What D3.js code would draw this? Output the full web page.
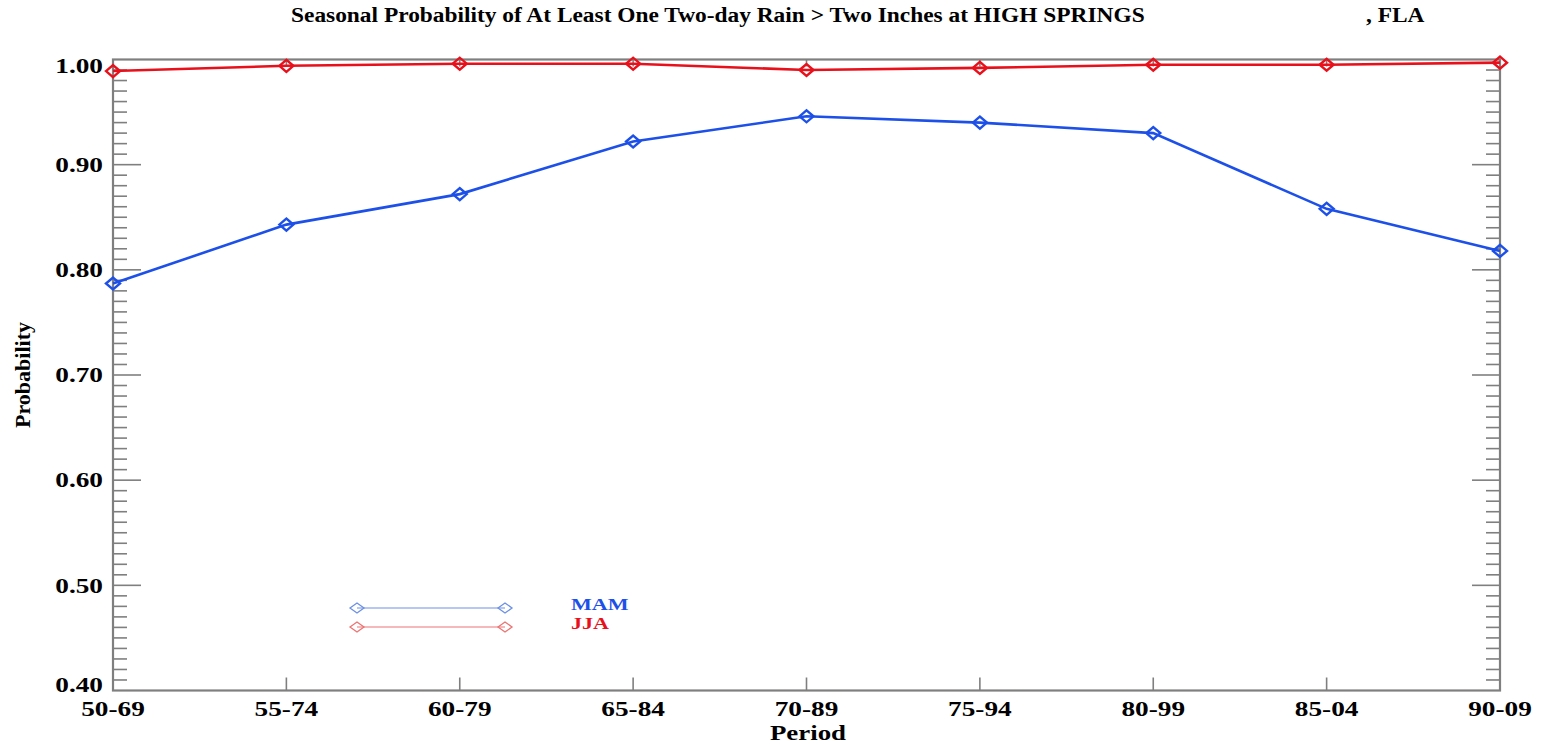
<!DOCTYPE html>
<html><head><meta charset="utf-8">
<script src="https://cdn.jsdelivr.net/npm/d3@7"></script>
<style>body{margin:0;background:#fff}svg{display:block}</style>
</head><body><svg id="c" width="1541" height="744"></svg>
<script>
const periods = ["50-69","55-74","60-79","65-84","70-89","75-94","80-99","85-04","90-09"];
const mam = [0.787,0.843,0.872,0.922,0.946,0.940,0.930,0.858,0.818];
const jja = [0.989,0.994,0.996,0.996,0.990,0.992,0.995,0.995,0.997];
const yTickValues = [0.40,0.50,0.60,0.70,0.80,0.90,1.00];
const yTickLabels = ["0.40","0.50","0.60","0.70","0.80","0.90","1.00"];
const seriesNames = ["MAM","JJA"];
const titleMain = "Seasonal Probability of At Least One Two-day Rain > Two Inches at HIGH SPRINGS";
const titleTail = ", FLA";

const L = 113, R = 1500, T = 59.5, B = 690.5;
const FONT = "'Liberation Serif','Times New Roman',serif";
const BLUE = "#1d50e8", RED = "#e8111b";
const BLUE_L = "#6d90e6", RED_L = "#ee7373";
const GRAY = "#7f7f7f";

const svg = d3.select("#c");
const x = d3.scalePoint().domain(periods).range([L, R]);
const y = d3.scaleLinear().domain([0.4, 1.0]).range([B, T]);

function stext(g, tx, ty, str, size, anchor, color, sx, weight) {
  return g.append("text")
    .attr("transform", `translate(${tx},${ty}) scale(${sx},1)`)
    .attr("text-anchor", anchor)
    .attr("dominant-baseline", "central")
    .style("font-family", FONT)
    .style("font-size", size + "px")
    .style("font-weight", weight || "bold")
    .attr("fill", color)
    .text(str);
}

// ticks
const minor = d3.range(40, 101).map(v => v / 100);
const tg = svg.append("g").attr("stroke", GRAY).attr("stroke-width", 1.6);
minor.forEach(v => {
  if (v === 0.4 || v === 1.0) return;
  const isMajor = (Math.round(v * 100) % 10) === 0;
  const len = isMajor ? 28 : 14;
  tg.append("line").attr("x1", L).attr("x2", L + len).attr("y1", y(v)).attr("y2", y(v));
  tg.append("line").attr("x1", R).attr("x2", R - len).attr("y1", y(v)).attr("y2", y(v));
});
periods.forEach((p, i) => {
  if (i === 0 || i === periods.length - 1) return;
  tg.append("line").attr("x1", x(p)).attr("x2", x(p)).attr("y1", B).attr("y2", B - 13);
  tg.append("line").attr("x1", x(p)).attr("x2", x(p)).attr("y1", T).attr("y2", T + 7);
});

// frame
svg.append("rect").attr("x", L).attr("y", T).attr("width", R - L).attr("height", B - T)
  .attr("fill", "none").attr("stroke", GRAY).attr("stroke-width", 2.2);

// labels
const lg = svg.append("g");
yTickValues.forEach((v, i) => {
  let yy = y(v);
  if (i === 0) yy -= 6;
  if (i === yTickValues.length - 1) yy += 6;
  stext(lg, 103, yy, yTickLabels[i], 21, "end", "#000", 1.3);
});
periods.forEach(p => stext(lg, x(p), 709, p, 21, "middle", "#000", 1.3));

stext(lg, 808, 733, "Period", 21, "middle", "#000", 1.28);
lg.append("text")
  .attr("transform", "translate(23,375) rotate(-90) scale(1.05,1)")
  .attr("text-anchor", "middle").attr("dominant-baseline", "central")
  .style("font-family", FONT).style("font-size", "21px").style("font-weight", "bold")
  .text("Probability");

// title
stext(lg, 291, 16, titleMain, 20, "start", "#000", 1.17);
stext(lg, 1366, 16, titleTail, 20, "start", "#000", 1.17);

// series
const line = d3.line().x((d, i) => x(periods[i])).y(d => y(d));
function diamond(g, cx, cy, hw, hh, color, sw) {
  g.append("path")
    .attr("d", `M${cx - hw},${cy}L${cx},${cy - hh}L${cx + hw},${cy}L${cx},${cy + hh}Z`)
    .attr("fill", "none").attr("stroke", color).attr("stroke-width", sw);
}
const plot = svg.append("g");
[[mam, BLUE], [jja, RED]].forEach(([data, col]) => {
  plot.append("path").datum(data).attr("d", line)
    .attr("fill", "none").attr("stroke", col).attr("stroke-width", 2.6);
  data.forEach((v, i) => diamond(plot, x(periods[i]), y(v), 7, 6, col, 2.4));
});

// legend
const leg = svg.append("g");
const legRows = [[608, BLUE_L, BLUE], [627, RED_L, RED]];
legRows.forEach(([ly, lc, tc], i) => {
  leg.append("line").attr("x1", 357).attr("x2", 505).attr("y1", ly).attr("y2", ly)
    .attr("stroke", lc).attr("stroke-width", 1.2);
  diamond(leg, 357, ly, 7, 5, lc, 1.3);
  diamond(leg, 505, ly, 7, 5, lc, 1.3);
  stext(leg, 571, ly - 4, seriesNames[i], 17, "start", tc, 1.3);
});
</script></body></html>
